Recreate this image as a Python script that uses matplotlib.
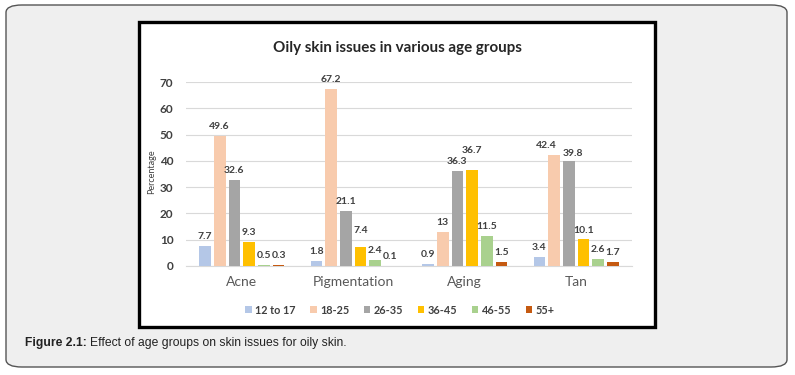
# -*- coding: utf-8 -*-
# Oily skin issues in various age groups - grouped bar chart with caption box

import numpy as np
import matplotlib
matplotlib.use('Agg')
import matplotlib.pyplot as plt
from matplotlib.patches import FancyBboxPatch, Rectangle

#%%
# =============================================================================
# Data
# =============================================================================
issues = ['Acne', 'Pigmentation', 'Aging', 'Tan']
age_groups = ['12 to 17', '18-25', '26-35', '36-45', '46-55', '55+']

vals_12_17 = [7.7, 1.8, 0.9, 3.4]
vals_18_25 = [49.6, 67.2, 13, 42.4]
vals_26_35 = [32.6, 21.1, 36.3, 39.8]
vals_36_45 = [9.3, 7.4, 36.7, 10.1]
vals_46_55 = [0.5, 2.4, 11.5, 2.6]
vals_55_up = [0.3, 0.1, 1.5, 1.7]

series = [vals_12_17, vals_18_25, vals_26_35, vals_36_45, vals_46_55, vals_55_up]
colours = ['#b4c7e7', '#f8cbad', '#a5a5a5', '#ffc000', '#a9d18e', '#c55a11']

yticks = [0, 10, 20, 30, 40, 50, 60, 70]

# labels that were moved by hand in the original (issue index, series index): (dx, dy) in points
nudge = {(1, 3): (0, 5), (2, 3): (0, 7), (3, 1): (-6, 0), (3, 2): (3, -1)}

#%%
# =============================================================================
# Figure
# =============================================================================
W, H = 795, 375
fig = plt.figure(figsize=(W / 100, H / 100), dpi=100)
fig.patch.set_facecolor('white')

# outer rounded grey panel
panel = FancyBboxPatch((6 / W, 8 / H), 781 / W, 362 / H,
                       boxstyle='round,pad=0,rounding_size=0.02',
                       transform=fig.transFigure, facecolor='#efefef',
                       edgecolor='#555555', linewidth=1.0, zorder=0)
fig.patches.append(panel)

# white chart box with black border
box = Rectangle((139 / W, 1 - 327 / H), (655 - 139) / W, (327 - 22) / H,
                transform=fig.transFigure, facecolor='white',
                edgecolor='black', linewidth=2.4, zorder=1)
fig.patches.append(box)

# the axes
ax = fig.add_axes([186 / W, 1 - 266 / H, (632 - 186) / W, (266 - 82) / H])
ax.set_zorder(2)
ax.patch.set_alpha(0)

x = np.arange(len(issues))
step = 0.132
width = 0.105
font = 'Lato'

for i, (vals, col) in enumerate(zip(series, colours)):
    pos = x + (i - 2.5) * step
    ax.bar(pos, vals, width=width, color=col, label=age_groups[i], zorder=3)
    for j, (p, v) in enumerate(zip(pos, vals)):
        dx, dy = nudge.get((j, i), (0, 0))
        ax.annotate(f'{v:g}', (p, v), xytext=(dx, 3.5 + dy),
                    textcoords='offset points', ha='center', va='bottom',
                    fontsize=7.5, fontweight='bold', color='#404040',
                    family=font)

ax.set_ylim(0, 70)
ax.set_xlim(-0.5, 3.5)
ax.set_yticks(yticks)
ax.set_yticklabels([str(t) for t in yticks], fontsize=8.5, fontweight='bold',
                   color='#404040', family=font)
ax.set_xticks(x)
ax.set_xticklabels(issues, fontsize=10, color='#595959', family=font)
ax.tick_params(axis='y', length=0, pad=9)
ax.tick_params(axis='x', length=0, pad=7)
ax.grid(axis='y', color='#d9d9d9', linewidth=0.8, zorder=0)
for s in ['top', 'right', 'left']:
    ax.spines[s].set_visible(False)
ax.spines['bottom'].set_color('#d9d9d9')

fig.text(152 / W, 1 - 172 / H, 'Percentage', rotation=90, ha='center',
         va='center', fontsize=6.5, color='#404040', family=font, zorder=3)

# title
fig.text(397 / W, 1 - 48 / H, 'Oily skin issues in various age groups',
         ha='center', va='center', fontsize=10.9, fontweight='bold',
         color='#262626', family=font, zorder=3)

# legend
leg = fig.legend(loc='center', bbox_to_anchor=(400 / W, 1 - 310 / H), ncol=6,
                 frameon=False, handlelength=0.6, handleheight=0.6,
                 handletextpad=0.35, columnspacing=1.3,
                 prop={'family': font, 'size': 7.8, 'weight': 'bold'})
for t in leg.get_texts():
    t.set_color('#404040')
leg.set_zorder(3)

# caption, bold part first then the rest
cap_y = 1 - 343 / H
t1 = fig.text(25 / W, cap_y, 'Figure 2.1:', ha='left', va='center',
              fontsize=8.7, fontweight='bold', color='#222222',
              family='Liberation Sans')
fig.canvas.draw()
bb = t1.get_window_extent(renderer=fig.canvas.get_renderer())
fig.text(bb.x1 / W + 3 / W, cap_y, 'Effect of age groups on skin issues for oily skin.',
         ha='left', va='center', fontsize=8.7, color='#222222',
         family='Liberation Sans')

plt.savefig('out.png', dpi=100)
